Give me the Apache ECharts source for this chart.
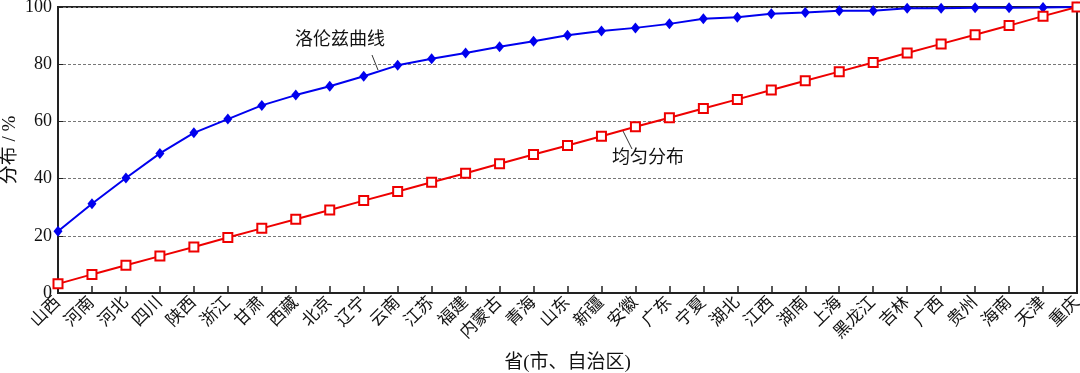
<!DOCTYPE html>
<html>
<head>
<meta charset="utf-8">
<script src="https://cdn.jsdelivr.net/npm/echarts@6/dist/echarts.min.js"></script>
<style>html,body{margin:0;padding:0;background:#fff}#c{width:1080px;height:373px}</style>
</head>
<body>
<div id="c"></div>
<script>
const categories = ['山西','河南','河北','四川','陕西','浙江','甘肃','西藏','北京','辽宁','云南','江苏','福建','内蒙古','青海','山东','新疆','安徽','广东','宁夏','湖北','江西','湖南','上海','黑龙江','吉林','广西','贵州','海南','天津','重庆'];
const lorenzValues = [21.6,31.2,40.2,48.8,56.0,60.8,65.6,69.2,72.3,75.8,79.6,81.9,83.9,86.1,88.0,90.1,91.6,92.7,94.1,95.9,96.4,97.6,98.1,98.7,98.7,99.6,99.6,99.7,99.7,99.8,100];
const uniformValues = [3.2,6.5,9.7,12.9,16.1,19.4,22.6,25.8,29.0,32.3,35.5,38.7,41.9,45.2,48.4,51.6,54.8,58.1,61.3,64.5,67.7,71.0,74.2,77.4,80.6,83.9,87.1,90.3,93.5,96.8,100];
const yTicks = [0,20,40,60,80,100];

const serif = '"Liberation Serif", "Noto Sans CJK SC", serif';
const chart = echarts.init(document.getElementById('c'));
chart.setOption({
  animation: false,
  backgroundColor: '#fff',
  grid: {left: 58, right: 3, top: 7, bottom: 80, show: true, borderColor: '#222', borderWidth: 2,
    containLabel: false, outerBoundsMode: 'none'},
  xAxis: {
    type: 'category', data: categories, boundaryGap: false,
    name: '省(市、自治区)', nameLocation: 'middle', nameGap: 61, nameMoveOverlap: false,
    nameTextStyle: {fontFamily: serif, fontSize: 19, color: '#111'},
    axisLine: {lineStyle: {color: '#222', width: 2}},
    axisTick: {inside: true, length: 7, lineStyle: {color: '#222', width: 1.5}, alignWithLabel: true},
    axisLabel: {rotate: 45, interval: 0, fontFamily: serif, fontSize: 17, color: '#111', margin: 7},
    splitLine: {show: false}
  },
  yAxis: {
    type: 'value', min: 0, max: 100, interval: 20,
    name: '分布 / %', nameLocation: 'middle', nameGap: 38, nameRotate: 90, nameMoveOverlap: false,
    nameTextStyle: {fontFamily: serif, fontSize: 19, color: '#111'},
    axisLine: {show: true, lineStyle: {color: '#222', width: 2}},
    axisTick: {show: true, inside: true, length: 5, lineStyle: {color: '#222'}},
    axisLabel: {fontFamily: serif, fontSize: 18, color: '#111', margin: 6,
      formatter: v => yTicks.includes(v) ? String(v) : ''},
    splitLine: {show: true, lineStyle: {color: '#777', type: [3, 2], width: 1}}
  },
  series: [
    {
      name: '洛伦兹曲线', type: 'line', data: lorenzValues,
      symbol: 'diamond', symbolSize: [9, 11],
      lineStyle: {color: '#0000ee', width: 2},
      itemStyle: {color: '#0000ee'},
      z: 3
    },
    {
      name: '均匀分布', type: 'line', data: uniformValues,
      symbol: 'rect', symbolSize: 9, showAllSymbol: true,
      lineStyle: {color: '#ee0000', width: 2},
      itemStyle: {color: '#fff', borderColor: '#ee0000', borderWidth: 2},
      z: 4
    }
  ],
  graphic: [
    {type: 'text', left: 295, top: 31, style: {text: '洛伦兹曲线', font: '18px ' + serif, fill: '#111'}},
    {type: 'line', shape: {x1: 372, y1: 55, x2: 378, y2: 70}, style: {stroke: '#333', lineWidth: 1}},
    {type: 'text', left: 612, top: 149, style: {text: '均匀分布', font: '18px ' + serif, fill: '#111'}},
    {type: 'line', shape: {x1: 623, y1: 131, x2: 632, y2: 149}, style: {stroke: '#333', lineWidth: 1}}
  ]
});
</script>
</body>
</html>
